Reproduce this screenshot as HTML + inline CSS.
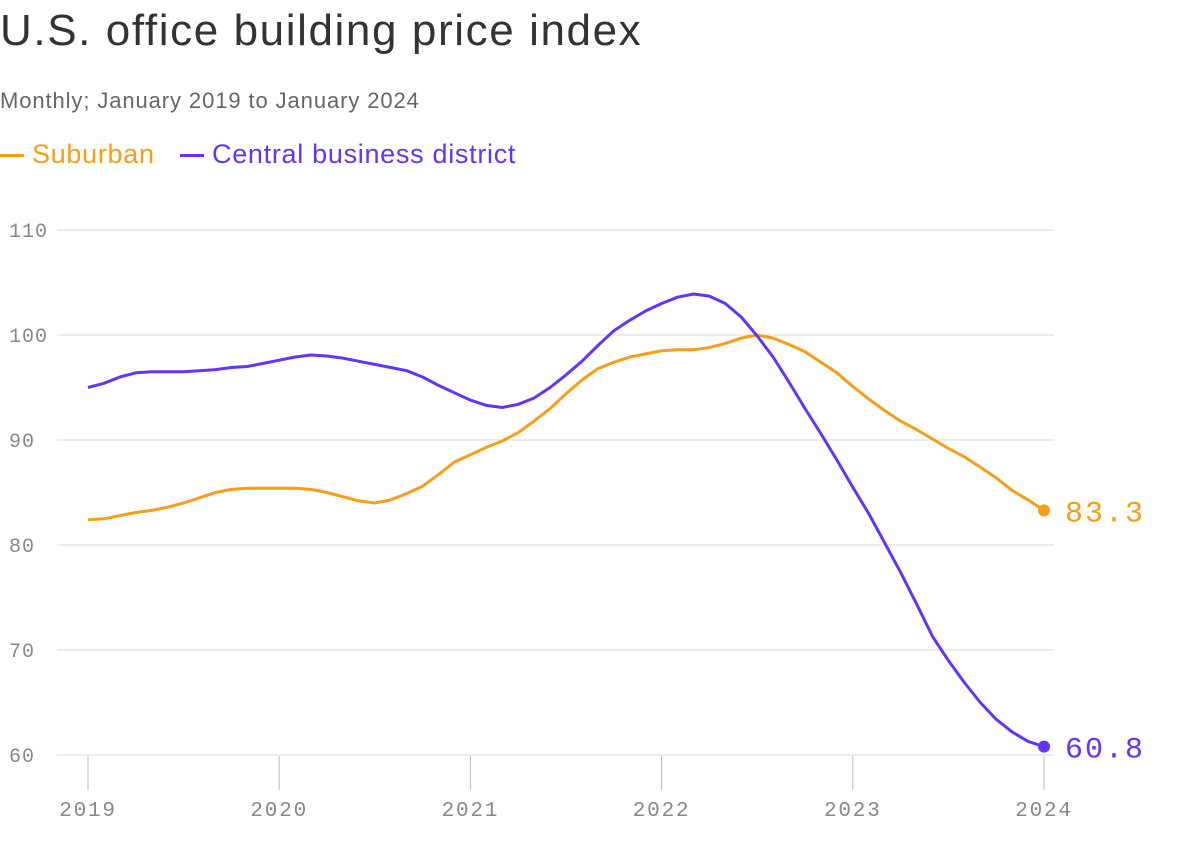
<!DOCTYPE html>
<html><head><meta charset="utf-8"><style>
body{margin:0;background:#fff;width:1200px;height:864px;overflow:hidden;font-family:"Liberation Sans",sans-serif}
#t{position:absolute;left:0;top:6px;font-size:44px;color:#333;letter-spacing:1.6px}
#s{position:absolute;left:0;top:88px;font-size:22px;color:#666;letter-spacing:0.9px}
.lg{position:absolute;top:139px;font-size:27px;letter-spacing:0.7px}
.lg i{display:inline-block;width:24px;height:3px;vertical-align:middle;margin-right:8px}
</style></head><body>
<div id="t">U.S. office building price index</div>
<div id="s">Monthly; January 2019 to January 2024</div>
<div class="lg" style="left:0;color:#f89d18"><i style="background:#f89d18"></i>Suburban</div>
<div class="lg" style="left:180px;color:#6533ff"><i style="background:#6533ff"></i>Central business district</div>
<svg id="c" width="1200" height="864" style="position:absolute;left:0;top:0"></svg>
<script>
const yTicks=[60,70,80,90,100,110];
const xTicks=[2019,2020,2021,2022,2023,2024];
const suburban=[82.4,82.5,82.8,83.1,83.3,83.6,84.0,84.5,85.0,85.3,85.4,85.4,85.4,85.4,85.3,85.0,84.6,84.2,84.0,84.3,84.9,85.6,86.7,87.9,88.6,89.3,89.9,90.7,91.8,93.0,94.4,95.7,96.8,97.4,97.9,98.2,98.5,98.6,98.6,98.8,99.2,99.7,100.0,99.7,99.1,98.4,97.4,96.4,95.1,93.9,92.8,91.8,91.0,90.1,89.2,88.4,87.4,86.4,85.2,84.3,83.3];
const cbd=[95.0,95.4,96.0,96.4,96.5,96.5,96.5,96.6,96.7,96.9,97.0,97.3,97.6,97.9,98.1,98.0,97.8,97.5,97.2,96.9,96.6,96.0,95.2,94.5,93.8,93.3,93.1,93.4,94.0,95.0,96.2,97.5,99.0,100.4,101.4,102.3,103.0,103.6,103.9,103.7,103.0,101.7,99.9,97.9,95.5,93.0,90.6,88.1,85.5,83.0,80.2,77.4,74.4,71.3,69.0,66.9,65.0,63.4,62.2,61.3,60.8];
const svg=document.getElementById('c');const NS='http://www.w3.org/2000/svg';
const y=v=>755-(v-60)*10.5;
const x=i=>88+i*(1044-88)/60;
const xy=yr=>88+(yr-2019)*(1044-88)/5;
function mk(t,a){const e=document.createElementNS(NS,t);for(const k in a)e.setAttribute(k,a[k]);svg.appendChild(e);return e;}
yTicks.forEach(v=>{
 const l=mk('line',{x1:57,x2:1054,y1:y(v),y2:y(v),stroke:'#d9d9d9','stroke-width':1});
 
 
 const t=mk('text',{x:9,y:y(v)+7,'font-family':'Liberation Mono, monospace','font-size':20,'letter-spacing':1,fill:'#888'});t.textContent=v;
 
 
});
xTicks.forEach(yr=>{
 const l=mk('line',{x1:xy(yr),x2:xy(yr),y1:756,y2:790,stroke:'#bbb','stroke-width':1});
 
 
 const t=mk('text',{x:xy(yr),y:816,'text-anchor':'middle','font-family':'Liberation Mono, monospace','font-size':21,'letter-spacing':1.8,fill:'#888'});t.textContent=yr;
 
 
});
function line(d,c,n){
 const p=mk('path',{d:d.map((v,i)=>(i?'L':'M')+x(i).toFixed(1)+','+y(v).toFixed(1)).join(''),fill:'none',stroke:c,'stroke-width':3,'stroke-linejoin':'round'});
 
 
 const last=d[d.length-1];
 const dot=mk('circle',{cx:x(d.length-1),cy:y(last),r:6,fill:c});
 
 
 const t=mk('text',{x:1065,y:y(last)+11,'font-family':'Liberation Mono, monospace','font-size':30,'letter-spacing':2,fill:c});t.textContent=last.toFixed(1);
 
 
}
line(suburban,'#f89d18','suburban');
line(cbd,'#6533ff','cbd');
</script>
</body></html>
